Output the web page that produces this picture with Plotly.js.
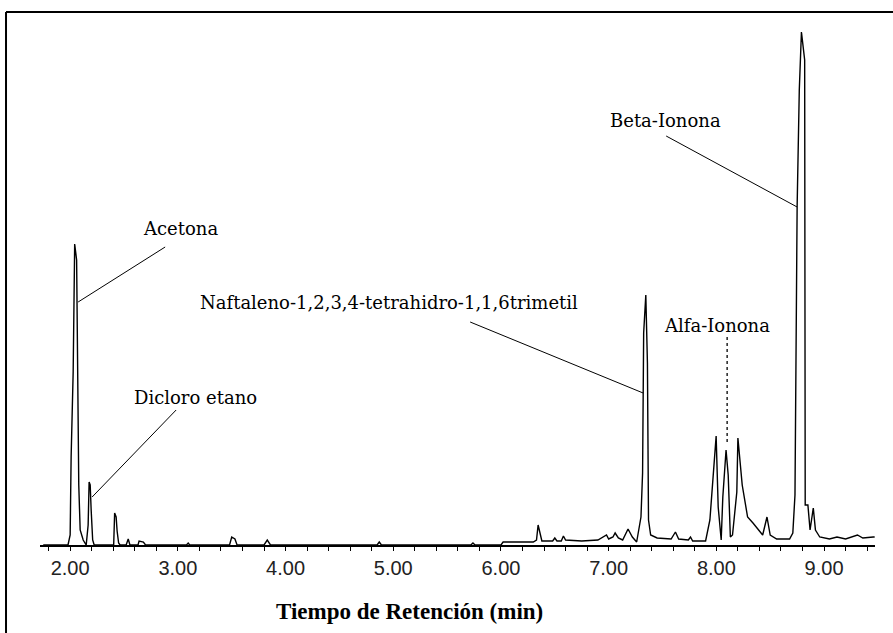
<!DOCTYPE html>
<html>
<head>
<meta charset="utf-8">
<script src="https://cdn.plot.ly/plotly-3.0.1.min.js"></script>
<style>
html,body{margin:0;padding:0;background:#fff;}
#chart{width:893px;height:633px;}
</style>
</head>
<body>
<div id="chart"></div>
<script>
// Retention time (min)
const retentionTime = [
  1.75, 1.98, 2.000, 2.009, 2.028, 2.042, 2.060, 2.070, 2.080, 2.093, 2.121, 2.149,
  2.167, 2.176, 2.186, 2.195, 2.209, 2.223,
  2.404, 2.413, 2.427, 2.436, 2.450, 2.464,
  2.52, 2.539, 2.555, 2.63, 2.64, 2.68, 2.70,
  3.08, 3.096, 3.11, 3.48, 3.50, 3.53, 3.55, 3.80, 3.83, 3.86,
  4.85, 4.87, 4.89, 5.72, 5.74, 5.76,
  6.00, 6.02, 6.30, 6.33, 6.345, 6.36, 6.38, 6.48, 6.50, 6.52, 6.56, 6.58, 6.60,
  6.75, 6.90, 6.98, 7.00, 7.04, 7.06, 7.09, 7.13, 7.18, 7.22, 7.26,
  7.30, 7.315, 7.325, 7.345, 7.36, 7.37, 7.39, 7.45, 7.58, 7.62, 7.65, 7.74, 7.76, 7.78,
  7.90, 7.94, 7.98, 7.998, 8.017, 8.045, 8.06, 8.09, 8.11, 8.13, 8.15, 8.19, 8.20, 8.24,
  8.29, 8.34, 8.43, 8.47, 8.50, 8.56, 8.68, 8.71, 8.73, 8.75, 8.77, 8.79, 8.82, 8.825,
  8.85, 8.87, 8.90, 8.92, 8.96, 9.05, 9.12, 9.20, 9.31, 9.36, 9.456, 9.47
];
// Detector response (arbitrary units)
const response = [
  0, 0, 10, 88, 173, 301, 285, 173, 60, 15, 5, 0,
  20, 63, 60, 35, 5, 0,
  0, 32, 28, 14, 2, 0,
  0, 6, 0, 0, 4, 3, 0,
  0, 2, 0, 0, 8, 6, 0, 0, 5, 0,
  0, 3, 0, 0, 2, 0,
  0, 3, 3, 5, 20, 12, 4, 4, 7, 4, 4, 9, 5,
  4, 5, 10, 6, 8, 12, 7, 5, 16, 8, 3,
  28, 72, 212, 250, 182, 25, 10, 7, 6, 13, 6, 5, 8, 4,
  4, 25, 87, 109, 38, 5, 48, 95, 70, 8, 10, 53, 107, 60,
  28, 22, 10, 28, 10, 6, 6, 12, 50, 338, 455, 513, 485, 40,
  40, 15, 37, 15, 8, 6, 8, 6, 10, 7, 8, 8
];
// Axis ticks
const tickValues = [2, 3, 4, 5, 6, 7, 8, 9];
const tickLabels = ["2.00", "3.00", "4.00", "5.00", "6.00", "7.00", "8.00", "9.00"];
// Compound labels
const compoundNames = ["Acetona", "Dicloro etano", "Naftaleno-1,2,3,4-tetrahidro-1,1,6trimetil", "Alfa-Ionona", "Beta-Ionona"];

const labelFont = {family: "DejaVu Serif", size: 18, color: "#000"};

const trace = {
  x: retentionTime,
  y: response,
  type: "scatter",
  mode: "lines",
  line: {color: "#000", width: 1.4},
  hoverinfo: "skip"
};

function lbl(text, x, y) {
  return {text: text, x: x, y: y, xref: "x", yref: "y", showarrow: false, font: labelFont, xanchor: "center", yanchor: "middle"};
}

const layout = {
  width: 893, height: 633,
  margin: {l: 40, r: 18, t: 25, b: 88},
  paper_bgcolor: "#fff", plot_bgcolor: "#fff",
  showlegend: false,
  xaxis: {
    range: [1.72, 9.473],
    showgrid: false, zeroline: false,
    showline: true, linecolor: "#000", linewidth: 2,
    ticks: "outside", ticklen: 4, tickwidth: 1, tickcolor: "#000",
    tickvals: tickValues, ticktext: tickLabels,
    tickfont: {family: "Liberation Sans", size: 20, color: "#222"},
    minor: {dtick: 0.2, tick0: 0, ticks: "outside", ticklen: 4, tickwidth: 1, tickcolor: "#000", showgrid: false}
  },
  yaxis: {range: [0, 520], visible: false, fixedrange: true},
  annotations: [
    lbl(compoundNames[0], 3.021, 317),
    lbl(compoundNames[1], 3.161, 148),
    lbl(compoundNames[2], 4.962, 243),
    lbl(compoundNames[3], 8.007, 220),
    lbl(compoundNames[4], 7.525, 425),
    {text: "<b>Tiempo de Retención (min)</b>", xref: "paper", yref: "paper", x: 0.443, y: -0.127,
     showarrow: false, xanchor: "center", yanchor: "middle",
     font: {family: "Liberation Serif", size: 23, color: "#000"}}
  ],
  shapes: [
    {type: "line", xref: "x", yref: "y", x0: 2.882, y0: 298, x1: 2.074, y1: 243, line: {color: "#000", width: 1}},
    {type: "line", xref: "x", yref: "y", x0: 2.984, y0: 135, x1: 2.204, y1: 48, line: {color: "#000", width: 1}},
    {type: "line", xref: "x", yref: "y", x0: 5.714, y0: 223, x1: 7.320, y1: 152, line: {color: "#000", width: 1}},
    {type: "line", xref: "x", yref: "y", x0: 7.534, y0: 409, x1: 8.750, y1: 338, line: {color: "#000", width: 1}},
    {type: "line", xref: "x", yref: "y", x0: 8.100, y0: 208, x1: 8.100, y1: 102, line: {color: "#000", width: 1.3, dash: "dot"}},
    // image frame
    {type: "line", xref: "paper", yref: "paper", x0: -0.0407, y0: 1.025, x1: 1.03, y1: 1.025, line: {color: "#000", width: 2}},
    {type: "line", xref: "paper", yref: "paper", x0: -0.0407, y0: 1.025, x1: -0.0407, y1: -0.175, line: {color: "#000", width: 2}}
  ]
};

Plotly.newPlot("chart", [trace], layout, {displayModeBar: false, staticPlot: true});
</script>
</body>
</html>
